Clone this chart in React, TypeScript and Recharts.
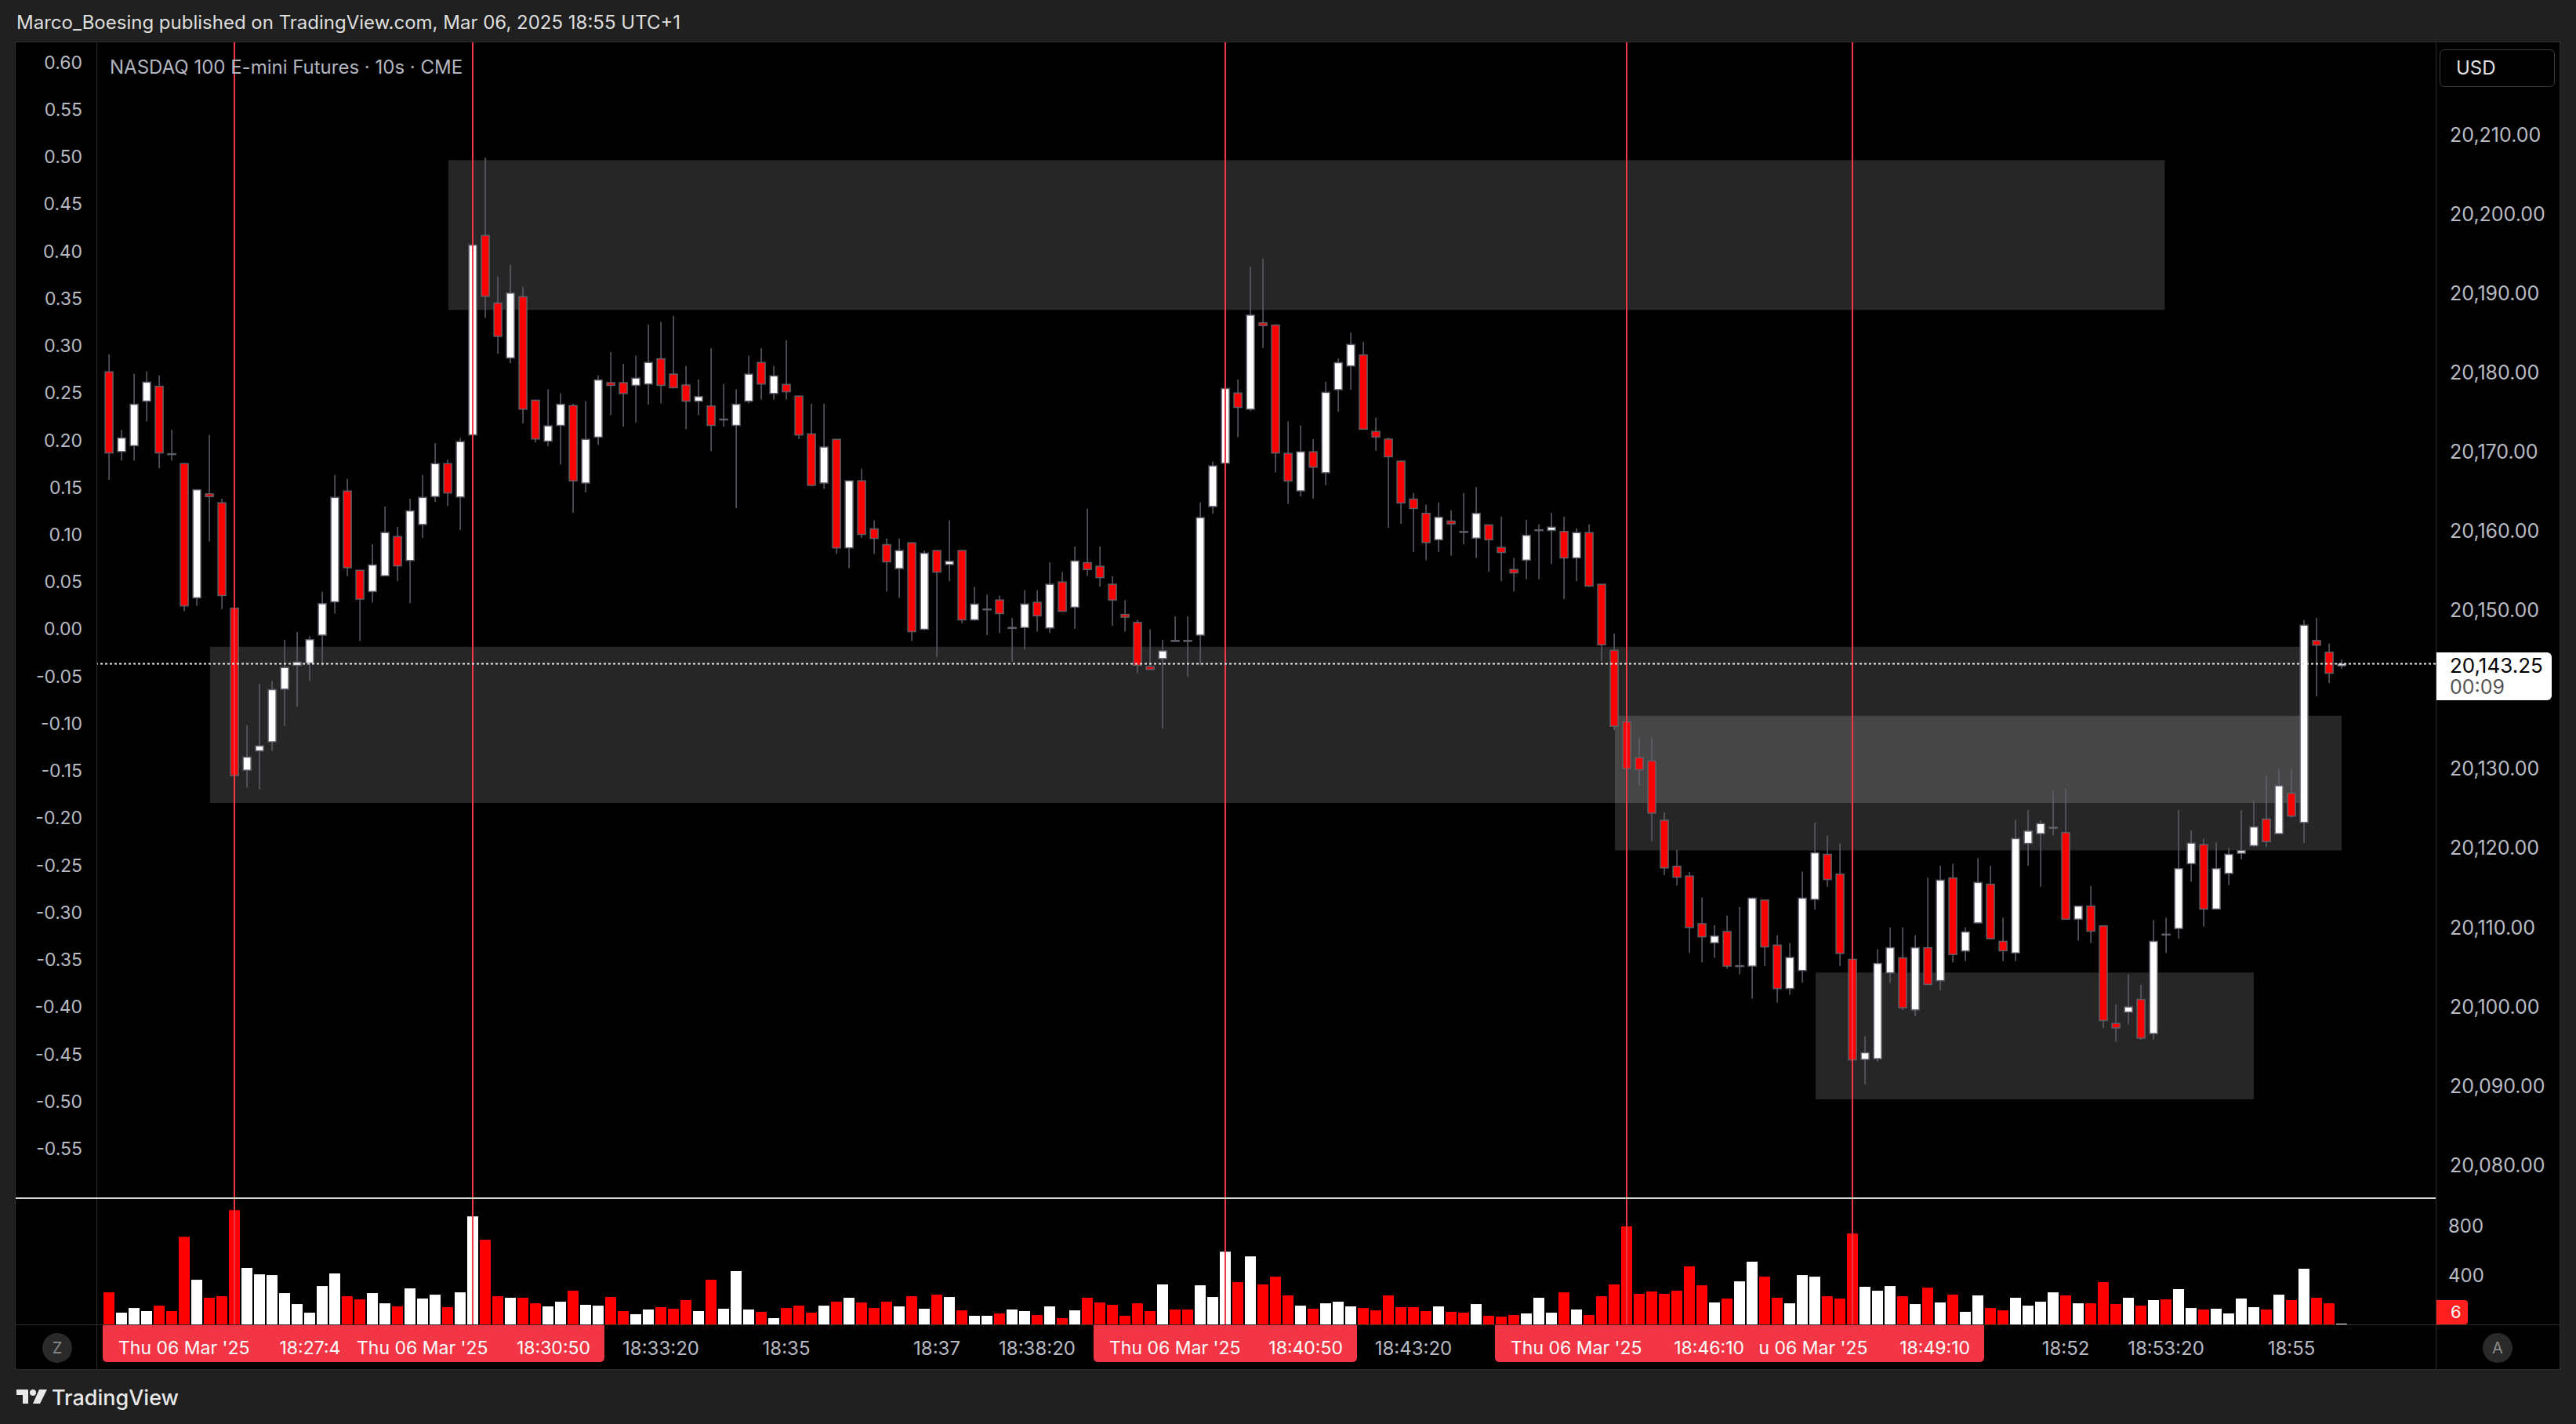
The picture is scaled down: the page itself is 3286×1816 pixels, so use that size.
import React from "react";
import { ComposedChart, Bar, Cell, XAxis, YAxis, ReferenceArea, ReferenceLine } from "recharts";

// 10s candles, candle 1 = 18:26:00 ... candle 179 = 18:55:40
const opens = [
  20180.08, 20170.03, 20170.77, 20176.39, 20178.26, 20169.75, 20168.5, 20151.58, 20164.69, 20163.56,
  20150.27, 20129.83, 20132.27, 20133.41, 20140.05, 20143.06, 20143.34, 20146.87, 20151.07, 20165.04,
  20155.04, 20152.37, 20154.36, 20159.3, 20156.29, 20160.83, 20164.35, 20168.5, 20164.3, 20172.13,
  20197.29, 20188.77, 20181.84, 20189.56, 20176.5, 20171.34, 20173.33, 20175.82, 20166.06, 20171.85,
  20178.72, 20178.72, 20178.38, 20178.55, 20181.73, 20179.8, 20178.43, 20176.39, 20175.77, 20174.12,
  20173.33, 20176.39, 20181.27, 20177.36, 20178.49, 20177.02, 20172.25, 20166.06, 20171.57, 20157.88,
  20166.34, 20160.27, 20158.28, 20155.27, 20158.51, 20147.61, 20157.54, 20155.78, 20157.54, 20148.8,
  20150.16, 20151.3, 20147.83, 20147.83, 20151.01, 20147.77, 20153.57, 20150.39, 20156.01, 20155.55,
  20153.28, 20149.48, 20148.46, 20142.89, 20143.91, 20146.19, 20146.19, 20146.87, 20163.1, 20168.56,
  20177.41, 20175.37, 20186.27, 20185.99, 20169.79, 20165.07, 20170.0, 20167.36, 20177.84, 20180.83,
  20182.21, 20172.57, 20171.6, 20168.82, 20164.03, 20162.23, 20158.9, 20161.26, 20159.94, 20159.11,
  20160.77, 20157.93, 20155.15, 20156.33, 20160.15, 20160.08, 20159.94, 20156.61, 20159.8, 20153.28,
  20144.95, 20135.93, 20131.42, 20131.0, 20123.51, 20117.7, 20116.47, 20110.46, 20108.05, 20109.47,
  20105.16, 20105.11, 20113.44, 20107.76, 20102.28, 20104.55, 20113.53, 20119.21, 20116.71, 20105.96,
  20093.33, 20093.43, 20104.26, 20106.15, 20099.58, 20107.43, 20103.27, 20116.23, 20107.01, 20110.56,
  20115.43, 20108.24, 20106.77, 20120.59, 20121.82, 20122.62, 20121.96, 20111.03, 20112.68, 20110.18,
  20097.88, 20099.3, 20100.9, 20096.6, 20109.14, 20109.85, 20118.03, 20120.44, 20112.31, 20116.8,
  20119.35, 20120.3, 20123.66, 20121.82, 20126.92, 20123.23, 20146.18, 20144.71, 20143.0,
];
const highs = [
  20182.3, 20172.76, 20179.86, 20180.14, 20179.63, 20172.81, 20168.6, 20165.21, 20172.13, 20164.07,
  20150.4, 20135.51, 20140.73, 20141.07, 20146.3, 20147.27, 20146.75, 20152.32, 20167.08, 20166.57,
  20155.1, 20158.34, 20163.1, 20160.55, 20164.07, 20167.08, 20171.11, 20169.01, 20171.74, 20196.83,
  20207.11, 20192.12, 20193.6, 20190.81, 20176.6, 20177.87, 20177.36, 20176.05, 20176.39, 20179.63,
  20182.58, 20181.1, 20182.13, 20186.04, 20186.38, 20187.12, 20180.82, 20179.12, 20183.09, 20178.55,
  20177.87, 20182.13, 20183.09, 20180.82, 20184.06, 20177.1, 20176.05, 20176.05, 20171.6, 20166.4,
  20167.87, 20161.35, 20159.07, 20159.07, 20158.6, 20157.54, 20157.6, 20161.35, 20157.6, 20152.94,
  20151.98, 20151.86, 20149.02, 20152.54, 20152.54, 20156.06, 20154.82, 20158.05, 20162.82, 20158.05,
  20154.3, 20151.3, 20148.8, 20147.61, 20146.3, 20149.25, 20149.25, 20163.62, 20168.78, 20183.09,
  20179.12, 20193.37, 20194.39, 20186.1, 20173.82, 20173.33, 20171.6, 20178.81, 20181.8, 20185.06,
  20183.88, 20174.3, 20171.8, 20168.9, 20164.8, 20163.34, 20163.62, 20162.65, 20164.8, 20165.56,
  20160.8, 20161.81, 20156.61, 20161.4, 20160.84, 20162.3, 20161.81, 20160.36, 20160.84, 20153.3,
  20147.1, 20136.0, 20134.06, 20134.06, 20124.48, 20119.78, 20116.99, 20113.77, 20110.27, 20111.5,
  20112.59, 20113.7, 20113.5, 20108.99, 20108.0, 20117.04, 20123.23, 20121.58, 20120.59, 20109.33,
  20096.27, 20107.24, 20109.99, 20109.99, 20108.99, 20116.28, 20117.79, 20118.03, 20109.99, 20118.74,
  20117.79, 20111.22, 20123.57, 20124.79, 20123.52, 20127.26, 20127.49, 20112.7, 20115.24, 20110.2,
  20100.29, 20104.07, 20102.8, 20110.93, 20111.22, 20124.79, 20122.24, 20121.2, 20120.73, 20120.02,
  20124.79, 20125.98, 20129.1, 20130.05, 20130.05, 20148.78, 20149.06, 20145.8, 20143.77,
];
const lows = [
  20166.46, 20168.9, 20168.9, 20173.84, 20167.93, 20168.9, 20149.88, 20150.56, 20158.68, 20150.16,
  20127.45, 20127.62, 20127.39, 20132.27, 20135.4, 20137.84, 20141.07, 20143.0, 20149.59, 20154.3,
  20146.13, 20150.96, 20154.3, 20153.68, 20150.9, 20159.13, 20163.67, 20163.16, 20160.1, 20172.0,
  20186.9, 20182.35, 20181.16, 20173.61, 20171.17, 20170.71, 20168.39, 20162.31, 20164.87, 20170.88,
  20174.63, 20173.16, 20173.67, 20175.94, 20176.11, 20178.0, 20172.87, 20174.63, 20170.09, 20173.16,
  20162.88, 20176.11, 20176.56, 20176.56, 20176.56, 20171.62, 20165.7, 20165.32, 20157.14, 20155.33,
  20159.13, 20157.14, 20152.37, 20151.58, 20146.13, 20147.5, 20144.08, 20153.68, 20148.34, 20148.68,
  20146.87, 20147.15, 20143.52, 20145.05, 20147.32, 20147.15, 20149.8, 20147.66, 20154.36, 20153.0,
  20148.06, 20147.32, 20142.1, 20142.5, 20135.11, 20146.1, 20141.64, 20143.06, 20162.2, 20164.35,
  20171.85, 20175.14, 20183.09, 20167.4, 20163.41, 20164.38, 20164.1, 20165.77, 20175.07, 20177.84,
  20172.8, 20170.14, 20160.42, 20160.91, 20157.37, 20156.33, 20157.37, 20156.89, 20158.34, 20156.61,
  20154.87, 20153.69, 20152.38, 20153.9, 20153.9, 20155.84, 20151.4, 20153.69, 20152.93, 20143.56,
  20134.89, 20119.83, 20127.88, 20120.87, 20116.62, 20115.29, 20106.77, 20105.59, 20106.15, 20104.78,
  20104.07, 20101.0, 20105.11, 20100.52, 20101.47, 20103.03, 20112.26, 20115.1, 20105.11, 20087.99,
  20090.21, 20093.05, 20102.98, 20099.58, 20098.77, 20102.7, 20102.04, 20105.59, 20105.73, 20110.5,
  20108.5, 20105.73, 20105.73, 20117.79, 20115.1, 20121.58, 20111.0, 20108.33, 20108.0, 20097.31,
  20095.56, 20097.78, 20095.79, 20095.79, 20106.77, 20108.57, 20115.76, 20110.08, 20112.3, 20115.33,
  20118.6, 20120.16, 20120.16, 20121.8, 20123.85, 20120.63, 20139.13, 20140.83, 20142.63,
];
const closes = [
  20169.86, 20171.74, 20175.99, 20178.78, 20169.86, 20169.7, 20150.56, 20165.21, 20164.35, 20151.86,
  20129.15, 20131.48, 20132.9, 20139.99, 20142.78, 20143.46, 20146.3, 20150.84, 20164.24, 20155.38,
  20151.41, 20155.72, 20159.81, 20155.61, 20162.54, 20164.24, 20168.5, 20164.81, 20171.28, 20196.09,
  20189.62, 20184.57, 20190.02, 20175.37, 20171.62, 20173.27, 20175.99, 20166.34, 20171.57, 20179.06,
  20178.38, 20177.36, 20179.29, 20181.27, 20178.38, 20178.09, 20176.39, 20176.96, 20173.33, 20174.12,
  20175.99, 20179.8, 20178.55, 20179.57, 20177.58, 20172.13, 20165.77, 20170.6, 20157.88, 20166.34,
  20159.58, 20159.07, 20156.12, 20157.54, 20147.32, 20157.2, 20154.82, 20156.18, 20148.8, 20150.78,
  20150.16, 20149.59, 20147.83, 20150.78, 20149.31, 20153.28, 20149.88, 20156.23, 20155.16, 20154.13,
  20151.3, 20149.14, 20143.06, 20142.55, 20144.88, 20146.15, 20146.15, 20161.69, 20168.22, 20177.98,
  20175.6, 20187.24, 20185.93, 20169.85, 20166.32, 20170.0, 20168.06, 20177.49, 20181.24, 20183.53,
  20172.85, 20171.87, 20169.38, 20163.55, 20162.85, 20158.55, 20161.74, 20160.91, 20159.9, 20162.23,
  20158.9, 20157.3, 20154.73, 20159.45, 20160.15, 20160.49, 20156.61, 20159.8, 20153.07, 20145.65,
  20135.37, 20130.03, 20129.89, 20124.41, 20117.5, 20116.33, 20109.99, 20108.81, 20108.9, 20105.11,
  20105.16, 20113.68, 20107.53, 20102.28, 20106.2, 20113.68, 20119.4, 20116.04, 20106.72, 20093.28,
  20094.18, 20105.45, 20107.43, 20099.86, 20107.43, 20102.8, 20115.95, 20106.58, 20109.42, 20115.66,
  20108.57, 20107.05, 20121.2, 20122.15, 20123.09, 20122.62, 20111.03, 20112.68, 20109.52, 20098.25,
  20097.31, 20099.96, 20096.03, 20108.24, 20109.1, 20117.41, 20120.63, 20112.31, 20117.41, 20119.21,
  20119.69, 20122.67, 20120.82, 20127.87, 20124.04, 20148.12, 20145.61, 20142.06, 20143.25,
];
const volumes = [
  260, 95, 133, 108, 152, 108, 711, 362, 216, 229,
  927, 457, 406, 400, 254, 165, 95, 311, 413, 229,
  203, 254, 171, 146, 292, 210, 241, 140, 260, 876,
  686, 229, 216, 216, 171, 146, 184, 273, 159, 152,
  222, 108, 83, 121, 140, 127, 197, 108, 362, 127,
  432, 121, 102, 51, 133, 152, 95, 152, 184, 216,
  178, 133, 184, 146, 229, 127, 241, 222, 114, 70,
  70, 89, 121, 108, 76, 146, 51, 114, 216, 178,
  159, 70, 171, 108, 324, 121, 121, 317, 222, 590,
  343, 552, 324, 387, 235, 152, 127, 171, 184, 146,
  133, 114, 235, 140, 140, 108, 146, 102, 95, 165,
  70, 63, 76, 89, 216, 95, 260, 121, 76, 229,
  324, 794, 248, 267, 248, 273, 470, 317, 178, 210,
  349, 508, 387, 216, 171, 400, 387, 229, 210, 737,
  305, 273, 311, 229, 165, 298, 178, 241, 102, 235,
  133, 114, 216, 152, 184, 260, 235, 171, 171, 343,
  165, 216, 152, 197, 203, 286, 133, 121, 127, 89,
  210, 140, 121, 241, 197, 451, 216, 171, 6,
];

const lastPrice = 20143.25;
// 20,140.00 sits under the last-price label, so it is not listed
const priceTicks = [20080, 20090, 20100, 20110, 20120, 20130, 20150, 20160, 20170, 20180, 20190, 20200, 20210];
const pctTicks = [0.6, 0.55, 0.5, 0.45, 0.4, 0.35, 0.3, 0.25, 0.2, 0.15, 0.1, 0.05, 0, -0.05, -0.1, -0.15, -0.2, -0.25, -0.3, -0.35, -0.4, -0.45, -0.5, -0.55];
const volTicks = [400, 800];

const tickTimes = ["18:33:20", "18:35:00", "18:37:00", "18:38:20", "18:43:20", "18:52:00", "18:53:20", "18:55:00"];
const tickTexts = ["18:33:20", "18:35", "18:37", "18:38:20", "18:43:20", "18:52", "18:53:20", "18:55"];
const markerTimes = ["18:27:40", "18:30:50", "18:40:50", "18:49:10", "18:46:10"];
const markerDate = "Thu 06 Mar '25";

// drawn rectangles (candle index from / to, price top / bottom)
const zoneFrom = [28.06, 9.06, 121.06, 137.06];
const zoneTo = [164.9, 176.3, 179.0, 172.0];
const zoneTop = [20206.8, 20145.4, 20136.7, 20104.3];
const zoneBottom = [20187.9, 20125.7, 20119.7, 20088.3];

const FONT = "Inter, 'Noto Sans', sans-serif";
const AXIS_TEXT = "#b8bbc3";
const RED = "#f23645";

const clock = (i: number) => {
  const s = 18 * 3600 + 25 * 60 + 50 + 10 * i;
  const p = (n: number) => String(n).padStart(2, "0");
  return `${p(Math.floor(s / 3600))}:${p(Math.floor(s / 60) % 60)}:${p(s % 60)}`;
};

const rows = opens.map((o, j) => ({
  t: clock(j + 1),
  idx: j + 1,
  open: o,
  high: highs[j],
  low: lows[j],
  close: closes[j],
  range: [lows[j], highs[j]],
  volume: volumes[j],
}));

function Candle(props: any) {
  const { x, y, width, height, payload } = props;
  if (!payload) return null;
  const top = Math.min(y, y + height);
  const h = Math.abs(height);
  const span = payload.high - payload.low;
  const k = span > 0 ? h / span : 0;
  const cx = x + width / 2;
  const yO = top + (payload.high - payload.open) * k;
  const yC = top + (payload.high - payload.close) * k;
  const up = payload.close >= payload.open;
  const bTop = Math.min(yO, yC);
  const bH = Math.max(Math.abs(yC - yO), 1);
  return (
    <g>
      <line x1={cx} x2={cx} y1={top} y2={top + h} stroke="#5d606b" strokeWidth={1.5} />
      <rect x={cx - 5} y={bTop} width={10} height={bH} fill={up ? "#ffffff" : "#ff0000"} stroke="#5d606b" strokeWidth={1.5} />
    </g>
  );
}

function TimeTick(props: any) {
  const { x, y, payload } = props;
  const v = payload.value;
  if (markerTimes.includes(v)) {
    const w = 168;
    const d = `M${x - w} ${y} H${x + w} V${y + 42} Q${x + w} ${y + 48} ${x + w - 6} ${y + 48} H${x - w + 6} Q${x - w} ${y + 48} ${x - w} ${y + 42} Z`;
    return (
      <g>
        <path d={d} fill={RED} />
        <text x={x - 148} y={y + 30} textAnchor="start" dominantBaseline="central" fill="#ffffff" fontSize={23} fontFamily={FONT}>
          {markerDate}
        </text>
        <text x={x + 150} y={y + 30} textAnchor="end" dominantBaseline="central" fill="#ffffff" fontSize={23} fontFamily={FONT}>
          {v}
        </text>
      </g>
    );
  }
  const n = tickTimes.indexOf(v);
  if (n < 0) return null;
  return (
    <text x={x} y={y + 30} textAnchor="middle" dominantBaseline="central" fill={AXIS_TEXT} fontSize={24} fontFamily={FONT}>
      {tickTexts[n]}
    </text>
  );
}

const fmtPrice = (v: number) => v.toLocaleString("en-US", { minimumFractionDigits: 2, maximumFractionDigits: 2 });

export default function App() {
  const abs = (l: number, t: number, w: number, h: number, extra: any = {}) => ({
    position: "absolute" as const, left: l, top: t, width: w, height: h, ...extra,
  });
  return (
    <div style={{ position: "absolute", left: 0, top: 0, width: 3286, height: 1816, background: "#202020", overflow: "hidden", fontFamily: FONT }}>
      <div style={{ position: "absolute", left: 21, top: 14, fontSize: 24, lineHeight: "30px", color: "#dedede" }}>
        Marco_Boesing published on TradingView.com, Mar 06, 2025 18:55 UTC+1
      </div>

      <div style={abs(19, 53, 3247, 1694, { background: "#000", border: "1px solid #2e2e2e", boxSizing: "border-box" })} />

      <div style={abs(20, 54, 3245, 1473)}>
        <ComposedChart width={3245} height={1473} data={rows} margin={{ top: 0, right: 0, bottom: 0, left: 0 }}>
          <XAxis xAxisId="cat" dataKey="t" type="category" hide padding={{ left: 8, right: 112 }} />
          <XAxis xAxisId="t" dataKey="idx" type="number" hide domain={[0, 186.5]} allowDataOverflow />
          <YAxis
            yAxisId="pct" orientation="left" width={103} type="number" domain={[-0.6016, 0.62125]} allowDataOverflow
            ticks={pctTicks} interval={0} axisLine={false} tickLine={false} tickSize={0} tickMargin={18}
            tick={{ fill: AXIS_TEXT, fontSize: 23, fontFamily: FONT }} tickFormatter={(v: number) => v.toFixed(2)}
          />
          <YAxis
            yAxisId="price" orientation="right" width={158} type="number" domain={[20075.93, 20221.66]} allowDataOverflow
            ticks={priceTicks} interval={0} axisLine={false} tickLine={false} tickSize={0} tickMargin={18}
            tick={{ fill: AXIS_TEXT, fontSize: 25, fontFamily: FONT }} tickFormatter={fmtPrice}
          />
          {zoneFrom.map((f, k) => (
            <ReferenceArea key={"z" + k} xAxisId="t" yAxisId="price" x1={f} x2={zoneTo[k]} y1={zoneBottom[k]} y2={zoneTop[k]}
              fill="#ffffff" fillOpacity={0.15} stroke="none" ifOverflow="hidden" />
          ))}
          {markerTimes.map((m) => (
            <ReferenceLine key={"m" + m} xAxisId="cat" yAxisId="price" x={m} stroke={RED} strokeWidth={2} />
          ))}
          <ReferenceLine xAxisId="cat" yAxisId="price" y={lastPrice} stroke="#e8e8e8" strokeWidth={2} strokeDasharray="3 3" />
          <Bar xAxisId="cat" yAxisId="price" dataKey="range" shape={Candle} isAnimationActive={false} />
        </ComposedChart>
      </div>

      <div style={abs(20, 1529, 3245, 216)}>
        <ComposedChart width={3245} height={216} data={rows} margin={{ top: 0, right: 0, bottom: 0, left: 103 }}>
          <XAxis
            xAxisId="cat" dataKey="t" type="category" padding={{ left: 8, right: 112 }} height={56}
            axisLine={false} tickLine={false} tickSize={0} tickMargin={0} ticks={[...tickTimes, ...markerTimes]} interval={0}
            tick={(p: any) => <TimeTick {...p} />}
          />
          <YAxis
            yAxisId="vol" orientation="right" width={158} type="number" domain={[0, 1017]} allowDataOverflow
            ticks={volTicks} interval={0} axisLine={false} tickLine={false} tickSize={0} tickMargin={16}
            tick={{ fill: AXIS_TEXT, fontSize: 24, fontFamily: FONT }}
          />
          {markerTimes.map((m) => (
            <ReferenceLine key={"v" + m} xAxisId="cat" yAxisId="vol" x={m} stroke={RED} strokeWidth={2} />
          ))}
          <Bar xAxisId="cat" yAxisId="vol" dataKey="volume" barSize={14} isAnimationActive={false}>
            {rows.map((r, k) => (
              <Cell key={k} fill={r.close >= r.open ? "#ffffff" : "#ff0000"} />
            ))}
          </Bar>
        </ComposedChart>
      </div>

      {/* pane frame lines */}
      <div style={abs(123, 54, 1, 1692, { background: "#2b2b2b" })} />
      <div style={abs(3107, 54, 1, 1692, { background: "#2b2b2b" })} />
      <div style={abs(20, 1527, 3087, 2, { background: "#d6d6d6" })} />
      <div style={abs(20, 1689, 3245, 1, { background: "#2e2e2e" })} />

      <div style={{ position: "absolute", left: 140, top: 71, fontSize: 24, lineHeight: "30px", color: "#b2b5be" }}>
        NASDAQ 100 E-mini Futures · 10s · CME
      </div>

      <div style={abs(3112, 63, 147, 48, { border: "1px solid #3a3a3a", borderRadius: 6, boxSizing: "border-box", color: "#e0e0e0", fontSize: 24, lineHeight: "46px", paddingLeft: 20 })}>
        USD
      </div>

      <div style={abs(3108, 832, 147, 61, { background: "#ffffff", borderRadius: "0 6px 6px 0" })}>
        <div style={{ position: "absolute", left: 17, top: 2, fontSize: 26, lineHeight: "30px", color: "#000" }}>20,143.25</div>
        <div style={{ position: "absolute", left: 17, top: 30, fontSize: 25, lineHeight: "28px", color: "#555" }}>00:09</div>
      </div>

      <div style={abs(3108, 1658, 40, 31, { background: "#ff1f1f", borderRadius: "0 4px 4px 0", color: "#fff", fontSize: 22, lineHeight: "31px", paddingLeft: 18, boxSizing: "border-box" })}>
        6
      </div>

      <div style={abs(54, 1700, 38, 38, { borderRadius: 19, background: "#2a2a2a", color: "#8c8c8c", fontSize: 20, lineHeight: "38px", textAlign: "center" })}>Z</div>
      <div style={abs(3167, 1700, 38, 38, { borderRadius: 19, background: "#2a2a2a", color: "#8c8c8c", fontSize: 20, lineHeight: "38px", textAlign: "center" })}>A</div>

      <svg style={{ position: "absolute", left: 21, top: 1772 }} width={40} height={20}>
        <path d="M0 0 H15 V18 H8 V7 H0 Z" fill="#e8e8e8" />
        <circle cx={21} cy={4} r={4} fill="#e8e8e8" />
        <path d="M29 0 H39 L30 18 H21 Z" fill="#e8e8e8" />
      </svg>
      <div style={{ position: "absolute", left: 66, top: 1767, fontSize: 27, lineHeight: "32px", color: "#e8e8e8", fontWeight: 500 }}>
        TradingView
      </div>
    </div>
  );
}
